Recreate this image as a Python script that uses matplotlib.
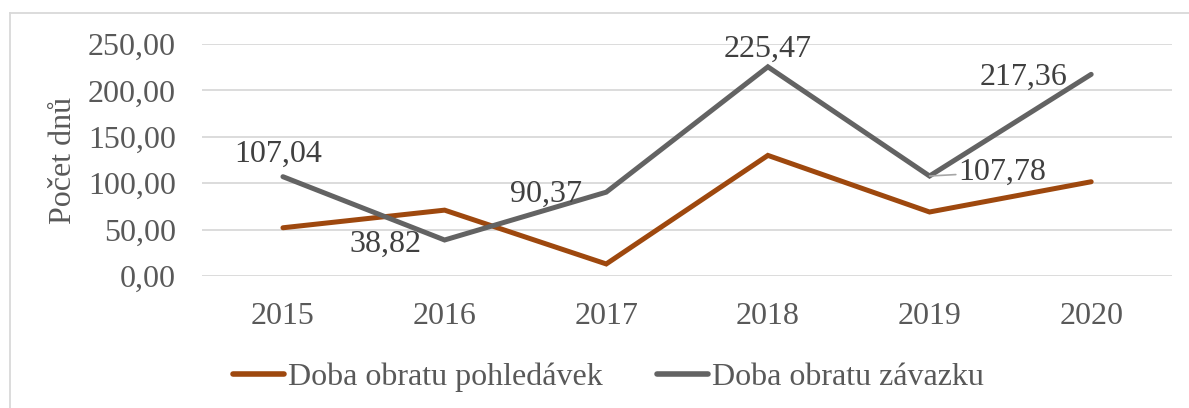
import matplotlib.pyplot as plt
from matplotlib.lines import Line2D

plt.rcParams['font.family'] = ['Liberation Serif', 'DejaVu Serif']

roky = ['2015', '2016', '2017', '2018', '2019', '2020']
pohledavky = [52.0, 71.0, 13.0, 130.0, 69.0, 101.6]
zavazky = [107.04, 38.82, 90.37, 225.47, 107.78, 217.36]
popisky = ['107,04', '38,82', '90,37', '225,47', '107,78', '217,36']
# posun popisku v pixelech (dx, dy)
posuny = [(-5, 22), (-59, -4), (-60, -2), (0, 17), (73, 4), (-68, -3)]

c_oranz = '#9E480E'
c_seda = '#636363'
c_text = '#595959'
c_mrizka = '#D9D9D9'
vel = 23

fig = plt.figure(figsize=(11.89, 4.08), dpi=100)
ax = fig.add_axes([0.170, 0.3235, 0.8157, 0.5685])

x = range(len(roky))
ax.plot(x, pohledavky, color=c_oranz, lw=3.6, solid_capstyle='round', solid_joinstyle='miter',
        label='Doba obratu pohledávek')
ax.plot(x, zavazky, color=c_seda, lw=3.6, solid_capstyle='round', solid_joinstyle='miter',
        label='Doba obratu závazku')

for i, (val, txt, off) in enumerate(zip(zavazky, popisky, posuny)):
    kw = {}
    if txt == '107,78':
        kw['arrowprops'] = dict(arrowstyle='-', color='#A6A6A6', lw=1.2, shrinkA=0, shrinkB=0)
    ax.annotate(txt, (i, val), xytext=off, textcoords='offset pixels',
                ha='center', va='center', fontsize=vel, color='#404040', **kw)

ax.set_xlim(-0.5, len(roky) - 0.5)
ax.set_ylim(0, 250)
ax.set_yticks([0, 50, 100, 150, 200, 250])
ax.set_yticklabels(['{:.2f}'.format(v).replace('.', ',') for v in ax.get_yticks()])
ax.set_xticks(list(x))
ax.set_xticklabels(roky)
ax.tick_params(axis='both', length=0, labelsize=vel, labelcolor=c_text)
ax.tick_params(axis='x', pad=19)
ax.tick_params(axis='y', pad=19)
ax.yaxis.grid(True, color=c_mrizka, lw=1.3)
ax.set_axisbelow(True)
for s in ax.spines.values():
    s.set_visible(False)

fig.text(0.053, 0.607, 'Počet dnů', rotation=90, ha='center', va='center',
         fontsize=vel, color=c_text)

handles = [Line2D([], [], color=c_oranz, lw=4, solid_capstyle='round'),
           Line2D([], [], color=c_seda, lw=4, solid_capstyle='round')]
fig.legend(handles, ['Doba obratu pohledávek', 'Doba obratu závazku'],
           loc='center', bbox_to_anchor=(0.512, 0.075), ncol=2, frameon=False,
           fontsize=vel, labelcolor=c_text, handlelength=1.6, handletextpad=0.12,
           columnspacing=1.7)

# ramecek grafu (jen horni a leva hrana jsou videt)
fig.add_artist(Line2D([10 / 1189, 1.0], [1 - 13 / 408, 1 - 13 / 408], color=c_mrizka, lw=1.3))
fig.add_artist(Line2D([10 / 1189, 10 / 1189], [0, 1 - 13 / 408], color=c_mrizka, lw=1.3))

fig.savefig('out.png', dpi=100)
